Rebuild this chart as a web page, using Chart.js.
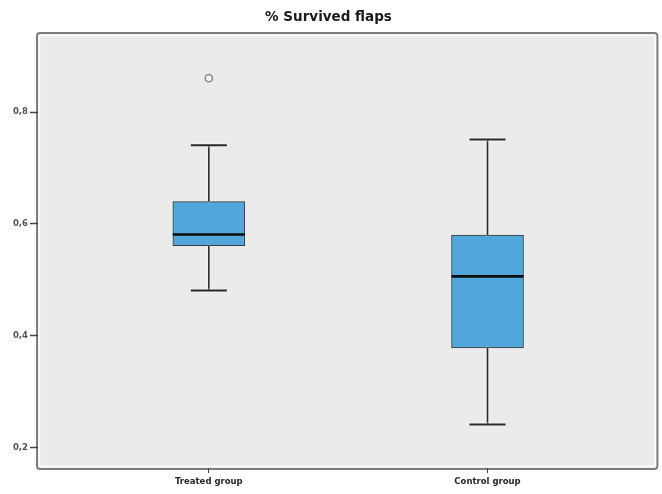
<!DOCTYPE html>
<html>
<head>
<meta charset="utf-8">
<script src="https://cdn.jsdelivr.net/npm/chart.js@4/dist/chart.umd.min.js"></script>
<style>
  html, body { margin: 0; padding: 0; background: #ffffff; }
  #wrap { width: 662px; height: 494px; }
</style>
</head>
<body>
<div id="wrap"><canvas id="c" width="662" height="494"></canvas></div>
<script>
// Box plot summary per group
const groups = ['Treated group', 'Control group'];
const positions = [1, 2];
const lowerWhisker = [0.481, 0.241];
const q1 = [0.561, 0.378];
const median = [0.581, 0.506];
const q3 = [0.640, 0.580];
const upperWhisker = [0.741, 0.751];
// Outliers: [group index, value]
const outliers = [[0, 0.861]];
const yTicks = [0.2, 0.4, 0.6, 0.8];

const boxData = positions.map((p, i) => ({ x: p, y: [q1[i], q3[i]] }));
const outlierData = outliers.map(([g, v]) => ({ x: positions[g], y: v }));

// Framed grey plotting panel
const panelPlugin = {
  id: 'panel',
  beforeDraw(chart) {
    const { ctx, chartArea: a } = chart;
    ctx.save();
    ctx.fillStyle = '#ebebeb';
    ctx.fillRect(a.left, a.top, a.right - a.left, a.bottom - a.top);
    ctx.strokeStyle = '#ffffff';
    ctx.lineWidth = 1.5;
    ctx.strokeRect(a.left + 1.5, a.top + 1.5, a.right - a.left - 3, a.bottom - a.top - 3);
    ctx.strokeStyle = '#7d7d7d';
    ctx.lineWidth = 2;
    ctx.beginPath();
    ctx.roundRect(a.left - 1, a.top - 1, a.right - a.left + 2, a.bottom - a.top + 2, 3);
    ctx.stroke();
    ctx.restore();
  }
};

// Whiskers, caps and median lines placed through the chart scales
const boxPlugin = {
  id: 'boxParts',
  afterDatasetsDraw(chart) {
    const { ctx, scales: { x, y } } = chart;
    const bars = chart.getDatasetMeta(0).data;
    ctx.save();
    ctx.lineCap = 'butt';
    positions.forEach((p, i) => {
      const cx = x.getPixelForValue(p);
      const capHalf = 18;
      ctx.strokeStyle = '#2a2a2a';
      ctx.lineWidth = 1.6;
      ctx.shadowColor = 'rgba(255,255,255,0.9)';
      ctx.shadowBlur = 3;
      ctx.beginPath();
      ctx.moveTo(cx, y.getPixelForValue(q3[i]));
      ctx.lineTo(cx, y.getPixelForValue(upperWhisker[i]));
      ctx.moveTo(cx, y.getPixelForValue(q1[i]));
      ctx.lineTo(cx, y.getPixelForValue(lowerWhisker[i]));
      ctx.stroke();
      ctx.lineWidth = 2;
      ctx.beginPath();
      const yu = y.getPixelForValue(upperWhisker[i]);
      const yl = y.getPixelForValue(lowerWhisker[i]);
      ctx.moveTo(cx - capHalf, yu); ctx.lineTo(cx + capHalf, yu);
      ctx.moveTo(cx - capHalf, yl); ctx.lineTo(cx + capHalf, yl);
      ctx.stroke();
      ctx.shadowBlur = 0;
      const bar = bars[i];
      const half = bar.width / 2;
      const ym = y.getPixelForValue(median[i]);
      ctx.strokeStyle = '#0d0d0d';
      ctx.lineWidth = 2.6;
      ctx.beginPath();
      ctx.moveTo(cx - half, ym); ctx.lineTo(cx + half, ym);
      ctx.stroke();
    });
    ctx.restore();
  }
};

new Chart(document.getElementById('c'), {
  type: 'bar',
  data: {
    datasets: [
      {
        type: 'bar',
        data: boxData,
        backgroundColor: '#51a7da',
        borderColor: '#3a3a3a',
        borderWidth: 1,
        borderSkipped: false,
        barThickness: 72
      },
      {
        type: 'scatter',
        data: outlierData,
        pointStyle: 'circle',
        pointRadius: 3.6,
        pointBorderWidth: 1.6,
        pointBorderColor: '#8a8a8a',
        pointBackgroundColor: '#f2f2f2'
      }
    ]
  },
  options: {
    responsive: false,
    animation: false,
    layout: { padding: { left: 0, right: 5, top: 0, bottom: 0 } },
    plugins: {
      legend: { display: false },
      tooltip: { enabled: false },
      title: {
        display: true,
        text: '% Survived flaps',
        color: '#1a1a1a',
        font: { family: 'DejaVu Sans, sans-serif', size: 13.5, weight: 'bold' },
        lineHeight: 1.2,
        padding: { top: 9, bottom: 8.8 }
      }
    },
    scales: {
      x: {
        type: 'linear',
        offset: false,
        min: 0.387,
        max: 2.606,
        afterBuildTicks(s) { s.ticks = positions.map(v => ({ value: v })); },
        afterFit(s) { s.height = 26; },
        ticks: {
          autoSkip: false,
          maxRotation: 0,
          padding: 4,
          color: '#262626',
          font: { family: 'DejaVu Sans, sans-serif', size: 8.5, weight: 'bold' },
          callback(v) { const i = positions.indexOf(v); return i >= 0 ? groups[i] : ''; }
        },
        grid: { offset: false, drawOnChartArea: false, tickLength: 5, tickColor: '#444', tickWidth: 1 },
        border: { display: false }
      },
      y: {
        min: 0.163,
        max: 0.940,
        afterBuildTicks(s) { s.ticks = yTicks.map(v => ({ value: v })); },
        afterFit(s) { s.width = 38; },
        ticks: {
          padding: 2,
          color: '#555',
          font: { family: 'DejaVu Sans, sans-serif', size: 8.5, weight: 'bold' },
          callback(v) { return v.toFixed(1).replace('.', ','); }
        },
        grid: { drawOnChartArea: false, tickLength: 8, tickColor: '#444', tickWidth: 1.5 },
        border: { display: false }
      }
    }
  },
  plugins: [panelPlugin, boxPlugin]
});
</script>
</body>
</html>
